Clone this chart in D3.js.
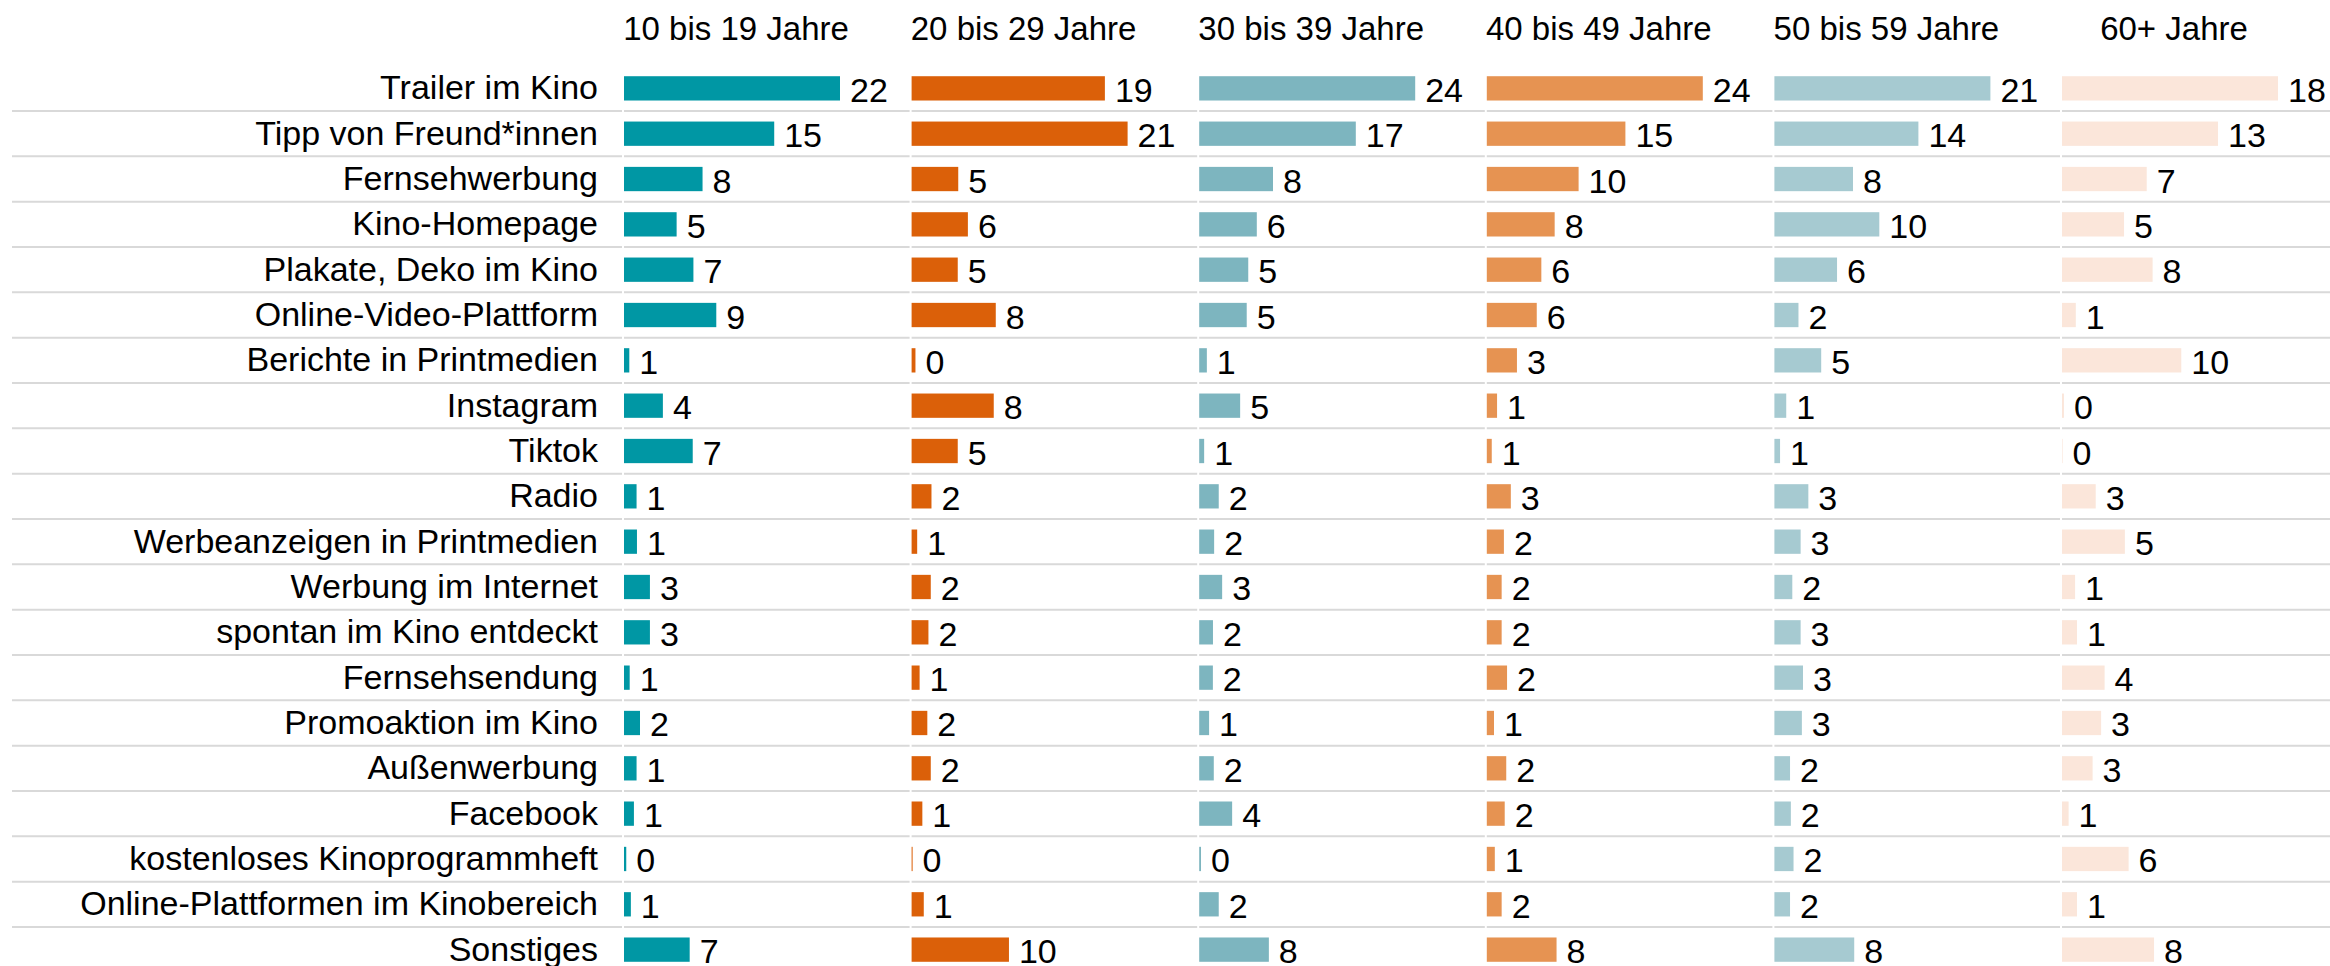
<!DOCTYPE html>
<html>
<head>
<meta charset="utf-8">
<script src="https://cdn.jsdelivr.net/npm/d3@7"></script>
<style>
  body { margin: 0; background: #fff; }
  svg { display: block; font-family: "Liberation Sans", Arial, sans-serif; }
</style>
</head>
<body>
<div class="container"></div>
<script>
const categories = ["Trailer im Kino", "Tipp von Freund*innen", "Fernsehwerbung", "Kino-Homepage",
    "Plakate, Deko im Kino", "Online-Video-Plattform", "Berichte in Printmedien", "Instagram", "Tiktok",
    "Radio", "Werbeanzeigen in Printmedien", "Werbung im Internet", "spontan im Kino entdeckt",
    "Fernsehsendung", "Promoaktion im Kino", "Außenwerbung", "Facebook", "kostenloses Kinoprogrammheft",
    "Online-Plattformen im Kinobereich", "Sonstiges"];
const groups = ["10 bis 19 Jahre", "20 bis 29 Jahre", "30 bis 39 Jahre", "40 bis 49 Jahre", "50 bis 59 Jahre", "60+ Jahre"];
const colors = ["#0097a4", "#db6009", "#7db5bf", "#e69352", "#a6cad1", "#fbe6da"];

// shares in percent, one array per age group (same order as categories)
const age10to19 = [22, 15.3, 8.0, 5.36, 7.07, 9.4, 0.54, 3.96, 7.0, 1.28, 1.32, 2.64, 2.64, 0.58, 1.63, 1.28, 1.01, 0.23, 0.7, 6.69];
const age20to29 = [19.06, 21.3, 4.6, 5.55, 4.55, 8.3, 0.38, 8.1, 4.55, 1.96, 0.55, 1.89, 1.66, 0.79, 1.55, 1.89, 1.06, 0.1, 1.2, 9.6];
const age30to39 = [24, 17.4, 8.2, 6.4, 5.45, 5.28, 0.85, 4.55, 0.55, 2.17, 1.66, 2.55, 1.53, 1.52, 1.1, 1.62, 3.66, 0.2, 2.17, 7.74];
const age40to49 = [24, 15.4, 10.2, 7.54, 6.06, 5.55, 3.35, 1.14, 0.55, 2.67, 1.9, 1.65, 1.65, 2.25, 0.8, 2.16, 1.99, 0.89, 1.65, 7.75];
const age50to59 = [21, 14.0, 7.64, 10.2, 6.09, 2.34, 4.55, 1.15, 0.55, 3.3, 2.55, 1.74, 2.55, 2.78, 2.67, 1.52, 1.6, 1.86, 1.52, 7.76];
const age60plus = [18, 13.0, 7.06, 5.17, 7.55, 1.15, 9.94, 0.16, 0.05, 2.81, 5.24, 1.09, 1.25, 3.55, 3.26, 2.55, 0.55, 5.55, 1.25, 7.67];
const series = [age10to19, age20to29, age30to39, age40to49, age50to59, age60plus];

const width = 2330, height = 966;
const panelStart = 624, panelStep = 287.6, barMax = 216, barH = 24.3;

const svg = d3.select(".container")
              .append("svg")
              .attr("width", width)
              .attr("height", height);

const y = d3.scaleBand()
            .domain(categories)
            .range([65.7, 65.7 + categories.length * 45.33]);
const fmt = d3.format(".0f");

// light separator lines between the rows
const rowLines = svg.append("g");
categories.slice(1).forEach(c => {
    rowLines.append("line")
            .attr("x1", 12).attr("x2", panelStart - 2)
            .attr("y1", y(c)).attr("y2", y(c));
    groups.forEach((g, i) => {
        const x0 = panelStart + i * panelStep;
        rowLines.append("line")
                .attr("x1", x0)
                .attr("x2", i === groups.length - 1 ? width : x0 + panelStep - 2)
                .attr("y1", y(c)).attr("y2", y(c));
    });
});
rowLines.selectAll("line")
        .attr("stroke", "#d9d9d9")
        .attr("stroke-width", 2);

// category labels
svg.append("g")
   .selectAll("text")
   .data(categories)
   .join("text")
   .attr("x", 598)
   .attr("y", d => y(d) + y.bandwidth() / 2 + 11)
   .attr("text-anchor", "end")
   .attr("font-size", 34)
   .attr("fill", "#000")
   .text(d => d);

groups.forEach((g, i) => {
    const x0 = panelStart + i * panelStep;
    const vals = series[i];
    const x = d3.scaleLinear()
                .domain([0, d3.max(vals)])
                .range([0, barMax]);
    const panel = svg.append("g")
                     .attr("transform", `translate(${x0},0)`);
    panel.append("text")
         .attr("x", barMax / 2 + 4)
         .attr("y", 40)
         .attr("text-anchor", "middle")
         .attr("font-size", 33)
         .text(g);
    panel.selectAll("rect")
         .data(vals)
         .join("rect")
         .attr("x", 0)
         .attr("y", (d, j) => y(categories[j]) + (y.bandwidth() - barH) / 2)
         .attr("width", d => x(d))
         .attr("height", barH)
         .attr("fill", colors[i]);
    panel.selectAll("text.value")
         .data(vals)
         .join("text")
         .attr("class", "value")
         .attr("x", d => x(d) + 10)
         .attr("y", (d, j) => y(categories[j]) + y.bandwidth() / 2 + 13.5)
         .attr("font-size", 34)
         .text(d => fmt(d));
});
</script>
</body>
</html>
